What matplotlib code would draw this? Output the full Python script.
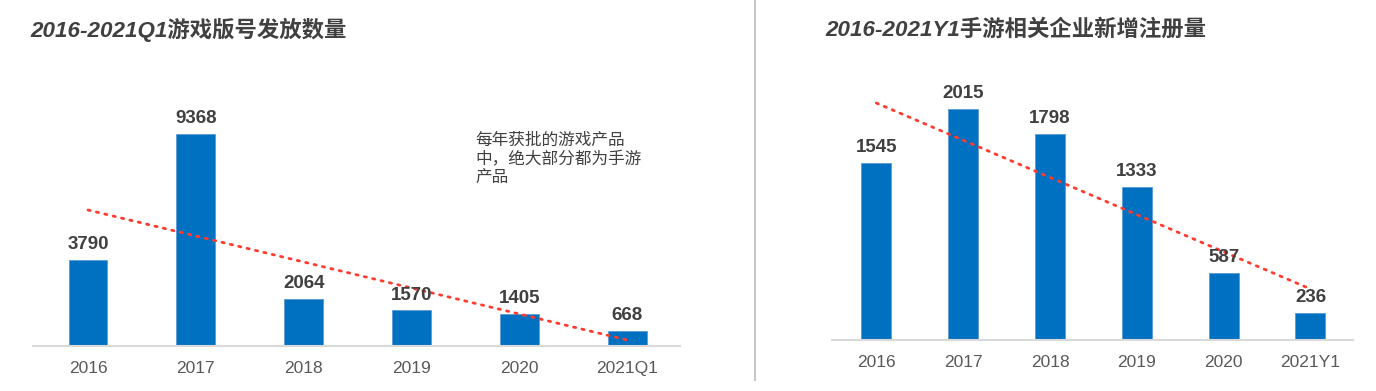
import matplotlib.pyplot as plt
from matplotlib.lines import Line2D

plt.rcParams['font.family'] = ['Liberation Sans', 'Noto Sans CJK SC', 'DejaVu Sans']

# left chart: game licences
left_title = '2016-2021Q1游戏版号发放数量'
left_cats = ['2016', '2017', '2018', '2019', '2020', '2021Q1']
left_vals = [3790, 9368, 2064, 1570, 1405, 668]
left_trend = [6010, 265]
left_note = '每年获批的游戏产品\n中，绝大部分都为手游\n产品'

# right chart: new mobile-game companies
right_title = '2016-2021Y1手游相关企业新增注册量'
right_cats = ['2016', '2017', '2018', '2019', '2020', '2021Y1']
right_vals = [1545, 2015, 1798, 1333, 587, 236]
right_trend = [2068, 445]

W, H = 1376, 391
BAR = '#0070C0'
RED = '#FF3B2F'
TXT = '#404040'

fig = plt.figure(figsize=(W / 100, H / 100), dpi=100)


def px_axes(x0, x1, ybase, ytop):
    return fig.add_axes([x0 / W, (H - ybase) / H, (x1 - x0) / W, (ybase - ytop) / H])


def draw(ax, cats, vals, trend, width, ymax):
    xs = list(range(len(cats)))
    ax.bar(xs, vals, width=width, color=BAR, edgecolor='#5B9BD5', linewidth=0.6, zorder=2)
    ax.plot([xs[0], xs[-1]], trend, color=RED, lw=2.0, linestyle=(0, (0.8, 2.3)),
            dash_capstyle='round', zorder=3)
    for x, v in zip(xs, vals):
        ax.annotate(str(v), (x, v), xytext=(0, 5), textcoords='offset points',
                    ha='center', va='bottom', fontsize=13.5, fontweight='bold',
                    color=TXT, annotation_clip=False, zorder=4)
    ax.set_xlim(-0.51, len(cats) - 0.51)
    ax.set_ylim(0, ymax)
    for s in ['top', 'right', 'left']:
        ax.spines[s].set_visible(False)
    ax.spines['bottom'].set_color('#D9D9D9')
    ax.spines['bottom'].set_linewidth(1.5)
    ax.set_yticks([])
    ax.set_xticks(xs)
    ax.set_xticklabels(cats, fontsize=12.5, color='#595959')
    ax.tick_params(axis='x', length=0, pad=11)
    ax.patch.set_alpha(0)


ax1 = px_axes(33, 680, 346, 60)
draw(ax1, left_cats, left_vals, left_trend, 0.36, 286 / 0.02263)

ax2 = px_axes(832, 1353, 340, 60)
draw(ax2, right_cats, right_vals, right_trend, 0.345, 280 / 0.1146)

fig.text(30 / W, 1 - 30 / H, left_title, fontsize=16.1, fontweight='bold',
         style='italic', color=TXT, va='center', ha='left')
fig.text(825 / W, 1 - 30 / H, right_title, fontsize=16.1, fontweight='bold',
         style='italic', color=TXT, va='center', ha='left')
fig.text(475 / W, 1 - 133 / H, left_note, fontsize=12, style='italic',
         color=TXT, va='top', ha='left', linespacing=1.2)

fig.add_artist(Line2D([755 / W, 755 / W], [1 - 380 / H, 1], color='#C8C8C8', lw=1.5))

fig.savefig('out.png', dpi=100, facecolor='white')
